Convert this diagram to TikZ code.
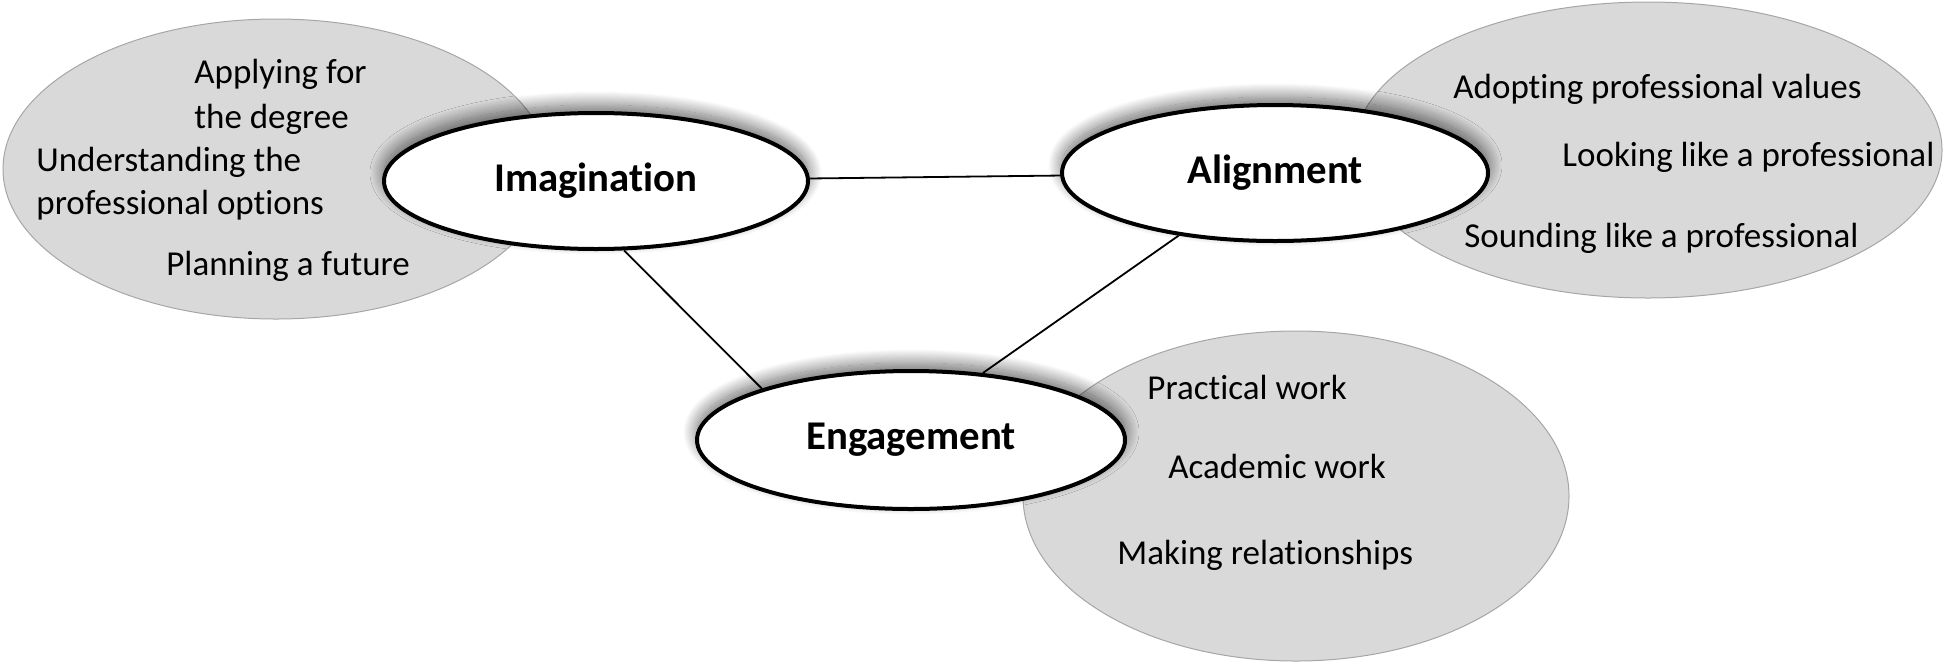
\documentclass[tikz,border=0pt]{standalone}
\usepackage{fontspec}
\setmainfont{Carlito}[Ligatures=NoCommon]
\usetikzlibrary{shapes.geometric,shadows.blur}
\definecolor{cloud}{RGB}{217,217,217}
\tikzset{
  cloudbox/.style={ellipse, fill=cloud, draw=black!35, line width=0.5pt, inner sep=0pt},
  hub/.style={ellipse, fill=white, draw=black, line width=2pt, inner sep=0pt,
    font=\bfseries\fontsize{20.4}{24}\selectfont,
    blur shadow={shadow xshift=0pt, shadow yshift=4pt, shadow blur radius=7pt,
      shadow blur steps=30, shadow opacity=60}},
  item/.style={anchor=base west, inner sep=0pt, font=\fontsize{17.5}{21}\selectfont},
  link/.style={line width=0.9pt}
}
\begin{document}
\begin{tikzpicture}[x=0.5pt,y=-0.5pt]
\useasboundingbox (0,0) rectangle (1946,670);
% background clouds
\node[cloudbox, minimum width=273pt, minimum height=150pt] (cl) at (276,169) {};
\node[cloudbox, minimum width=294pt, minimum height=148pt] (cr) at (1648,150) {};
\node[cloudbox, minimum width=273pt, minimum height=165pt] (cb) at (1296,496) {};
% item texts
\node[item] (t1) at (194,83) {Applying for};
\node[item] (t2) at (194,128) {the degree};
\node[item] (t3) at (36,171) {Understanding the};
\node[item] (t4) at (36,214) {professional options};
\node[item] (t5) at (166,275) {Planning a future};
\node[item] (r1) at (1453,98) {Adopting professional values};
\node[item] (r2) at (1562,166) {Looking like a professional};
\node[item] (r3) at (1464,247) {Sounding like a professional};
\node[item] (b1) at (1147,399) {Practical work};
\node[item] (b2) at (1168,478) {Academic work};
\node[item] (b3) at (1117,564) {Making relationships};
% hubs
\node[hub, minimum width=212pt, minimum height=68pt] (img) at (596,181) {Imagination};
\node[hub, minimum width=213pt, minimum height=68pt] (ali) at (1275,173) {Alignment};
\node[hub, minimum width=214pt, minimum height=69pt] (eng) at (911,440) {Engagement};
% connectors
\draw[link] (img) -- (ali);
\draw[link] (img.-68) -- (eng.161);
\draw[link] (ali.-147) -- (eng.43);
\end{tikzpicture}
\end{document}
